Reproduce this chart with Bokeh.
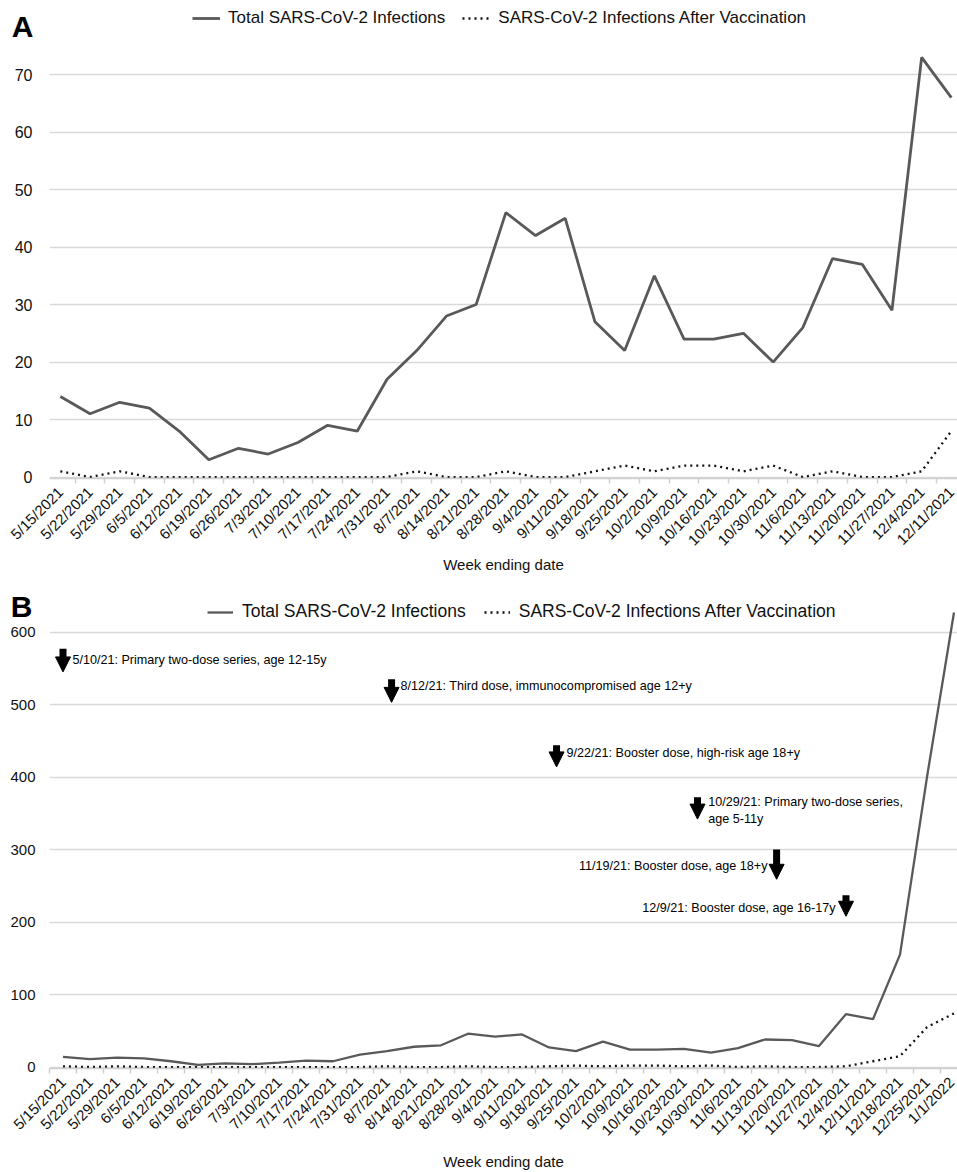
import math
from bokeh.plotting import figure
from bokeh.models import (Range1d, FixedTicker, Legend, LegendItem, Label,
                          Arrow, NormalHead, LinearAxis)
from bokeh.layouts import column
from bokeh.embed import file_html
from bokeh.resources import INLINE

# ---------------- data ----------------
weeks_a = ["5/15/2021", "5/22/2021", "5/29/2021", "6/5/2021", "6/12/2021",
           "6/19/2021", "6/26/2021", "7/3/2021", "7/10/2021", "7/17/2021",
           "7/24/2021", "7/31/2021", "8/7/2021", "8/14/2021", "8/21/2021",
           "8/28/2021", "9/4/2021", "9/11/2021", "9/18/2021", "9/25/2021",
           "10/2/2021", "10/9/2021", "10/16/2021", "10/23/2021", "10/30/2021",
           "11/6/2021", "11/13/2021", "11/20/2021", "11/27/2021", "12/4/2021",
           "12/11/2021"]
total_a = [14, 11, 13, 12, 8, 3, 5, 4, 6, 9, 8, 17, 22, 28, 30, 46, 42, 45,
           27, 22, 35, 24, 24, 25, 20, 26, 38, 37, 29, 73, 66]
vacc_a = [1, 0, 1, 0, 0, 0, 0, 0, 0, 0, 0, 0, 1, 0, 0, 1, 0, 0, 1, 2, 1, 2,
          2, 1, 2, 0, 1, 0, 0, 1, 8]

weeks_b = weeks_a + ["12/18/2021", "12/25/2021", "1/1/2022"]
total_b = total_a + [155, 400, 627]
vacc_b = vacc_a + [15, 55, 74]

series_names = ["Total SARS-CoV-2 Infections",
                "SARS-CoV-2 Infections After Vaccination"]
x_title = "Week ending date"

# vaccination milestones (panel B): text, anchor x (week index), anchor y, align
ann_text = ["5/10/21: Primary two-dose series, age 12-15y",
            "8/12/21: Third dose, immunocompromised age 12+y",
            "9/22/21: Booster dose, high-risk age 18+y",
            "10/29/21: Primary two-dose series,",
            "age 5-11y",
            "11/19/21: Booster dose, age 18+y",
            "12/9/21: Booster dose, age 16-17y"]
ann_x = [0.35, 12.5, 18.65, 23.9, 23.9, 26.09, 28.61]
ann_y = [561, 525, 433, 365, 342, 277, 220]
ann_align = ["left", "left", "left", "left", "left", "right", "right"]
arrow_x = [0.0, 12.17, 18.28, 23.5, 26.43, 29.0]
arrow_top = [577, 535, 444, 372, 300, 237]
arrow_tip = [545, 503, 414, 342, 259, 208]

FONT = "Liberation Sans"
GRID = "#d9d9d9"
LINE = "#595959"
FRAME_LEFT = 49   # both panels share the same frame left edge


def panel(weeks, total, vacc, width, height, x_start, x_end, y_start,
          y_end, y_ticks, border_bottom, ytick_size, line_w, letter,
          letter_y, letter_standoff, leg_loc, leg_glyph_w, leg_standoff,
          leg_spacing, leg_size, ylab_standoff, xlab_standoff):
    xs = list(range(len(weeks)))
    p = figure(width=width, height=height, output_backend="svg",
               toolbar_location=None,
               x_range=Range1d(x_start, x_end), y_range=Range1d(y_start, y_end),
               min_border_left=FRAME_LEFT, min_border_right=0,
               min_border_top=0, min_border_bottom=border_bottom)
    p.outline_line_color = None
    p.background_fill_color = "white"

    r1 = p.line(xs, total, line_color=LINE, line_width=line_w)
    r2 = p.line(xs, vacc, line_color="#111111", line_width=2.3,
                line_dash="2 4")

    # x axis
    xa = p.xaxis[0]
    xa.ticker = FixedTicker(ticks=xs,
                            minor_ticks=[i - 0.5 for i in range(len(weeks) + 1)])
    xa.major_label_overrides = {i: w for i, w in enumerate(weeks)}
    xa.major_label_orientation = math.pi / 4
    xa.major_tick_line_color = None
    xa.major_tick_out = 0
    xa.major_tick_in = 0
    xa.minor_tick_line_color = "#cfcfcf"
    xa.minor_tick_line_width = 1.5
    xa.minor_tick_out = 5
    xa.minor_tick_in = 0
    xa.axis_line_color = "#cfcfcf"
    xa.axis_line_width = 1.5
    xa.major_label_text_font = FONT
    xa.major_label_text_font_size = "15px"
    xa.major_label_text_color = "#111111"
    xa.major_label_standoff = 6
    xa.axis_label = x_title
    xa.axis_label_text_font = FONT
    xa.axis_label_text_font_size = "15px"
    xa.axis_label_text_font_style = "normal"
    xa.axis_label_text_color = "#111111"
    xa.axis_label_standoff = xlab_standoff

    # y axis
    ya = p.yaxis[0]
    ya.ticker = FixedTicker(ticks=y_ticks)
    ya.axis_line_color = None
    ya.major_tick_line_color = None
    ya.minor_tick_line_color = None
    ya.major_tick_out = 0
    ya.major_tick_in = 0
    ya.minor_tick_out = 0
    ya.minor_tick_in = 0
    ya.major_label_text_font = FONT
    ya.major_label_text_font_size = ytick_size
    ya.major_label_text_color = "#111111"
    ya.major_label_standoff = ylab_standoff

    # panel letter: a one-label axis stacked left of the value axis
    la = LinearAxis(ticker=FixedTicker(ticks=[letter_y]),
                    major_label_overrides={letter_y: letter})
    la.axis_line_color = None
    la.major_tick_line_color = None
    la.minor_tick_line_color = None
    la.major_tick_out = 0
    la.major_tick_in = 0
    la.minor_tick_out = 0
    la.minor_tick_in = 0
    la.major_label_text_font = FONT
    la.major_label_text_font_size = "30px"
    la.major_label_text_font_style = "bold"
    la.major_label_text_color = "black"
    la.major_label_standoff = letter_standoff
    p.add_layout(la, "left")

    p.xgrid.grid_line_color = None
    p.ygrid.ticker = FixedTicker(ticks=y_ticks)
    p.ygrid.grid_line_color = GRID
    p.ygrid.grid_line_width = 1.5

    legend = Legend(items=[LegendItem(label=series_names[0], renderers=[r1]),
                           LegendItem(label=series_names[1], renderers=[r2])],
                    orientation="horizontal", location=leg_loc,
                    padding=0, margin=0, border_line_color=None,
                    background_fill_alpha=0,
                    label_text_font=FONT, label_text_font_size=leg_size,
                    label_text_color="#111111",
                    glyph_width=leg_glyph_w, label_standoff=leg_standoff,
                    spacing=leg_spacing)
    p.add_layout(legend)
    return p


pa = panel(weeks_a, total_a, vacc_a, width=957, height=580,
           x_start=-0.365, x_end=30.207, y_start=-0.25, y_end=82.88,
           y_ticks=[0, 10, 20, 30, 40, 50, 60, 70], border_bottom=102,
           ytick_size="16px", line_w=2.8, letter="A",
           letter_y=78.4, letter_standoff=-22, leg_loc=(143, 450),
           leg_glyph_w=28, leg_standoff=8, leg_spacing=17, leg_size="17px",
           ylab_standoff=17, xlab_standoff=-2)

pb = panel(weeks_b, total_b, vacc_b, width=957, height=592,
           x_start=-0.5, x_end=33.13, y_start=-2, y_end=671.1,
           y_ticks=[0, 100, 200, 300, 400, 500, 600], border_bottom=104,
           ytick_size="15px", line_w=2.3, letter="B",
           letter_y=635.9, letter_standoff=-25, leg_loc=(158, 446),
           leg_glyph_w=26, leg_standoff=9, leg_spacing=18, leg_size="17.5px",
           ylab_standoff=14, xlab_standoff=5)

for t, x, y, al in zip(ann_text, ann_x, ann_y, ann_align):
    pb.add_layout(Label(x=x, y=y, text=t, text_font=FONT,
                        text_font_size="12.6px", text_color="black",
                        text_align=al, text_baseline="middle"))

for x, top, tip in zip(arrow_x, arrow_top, arrow_tip):
    pb.add_layout(Arrow(end=NormalHead(size=15, fill_color="black",
                                       line_color="black", line_width=1),
                        x_start=x, y_start=top, x_end=x, y_end=tip,
                        line_color="black", line_width=7))

layout = column(pa, pb)
open("out.html", "w").write(file_html(layout, INLINE))
